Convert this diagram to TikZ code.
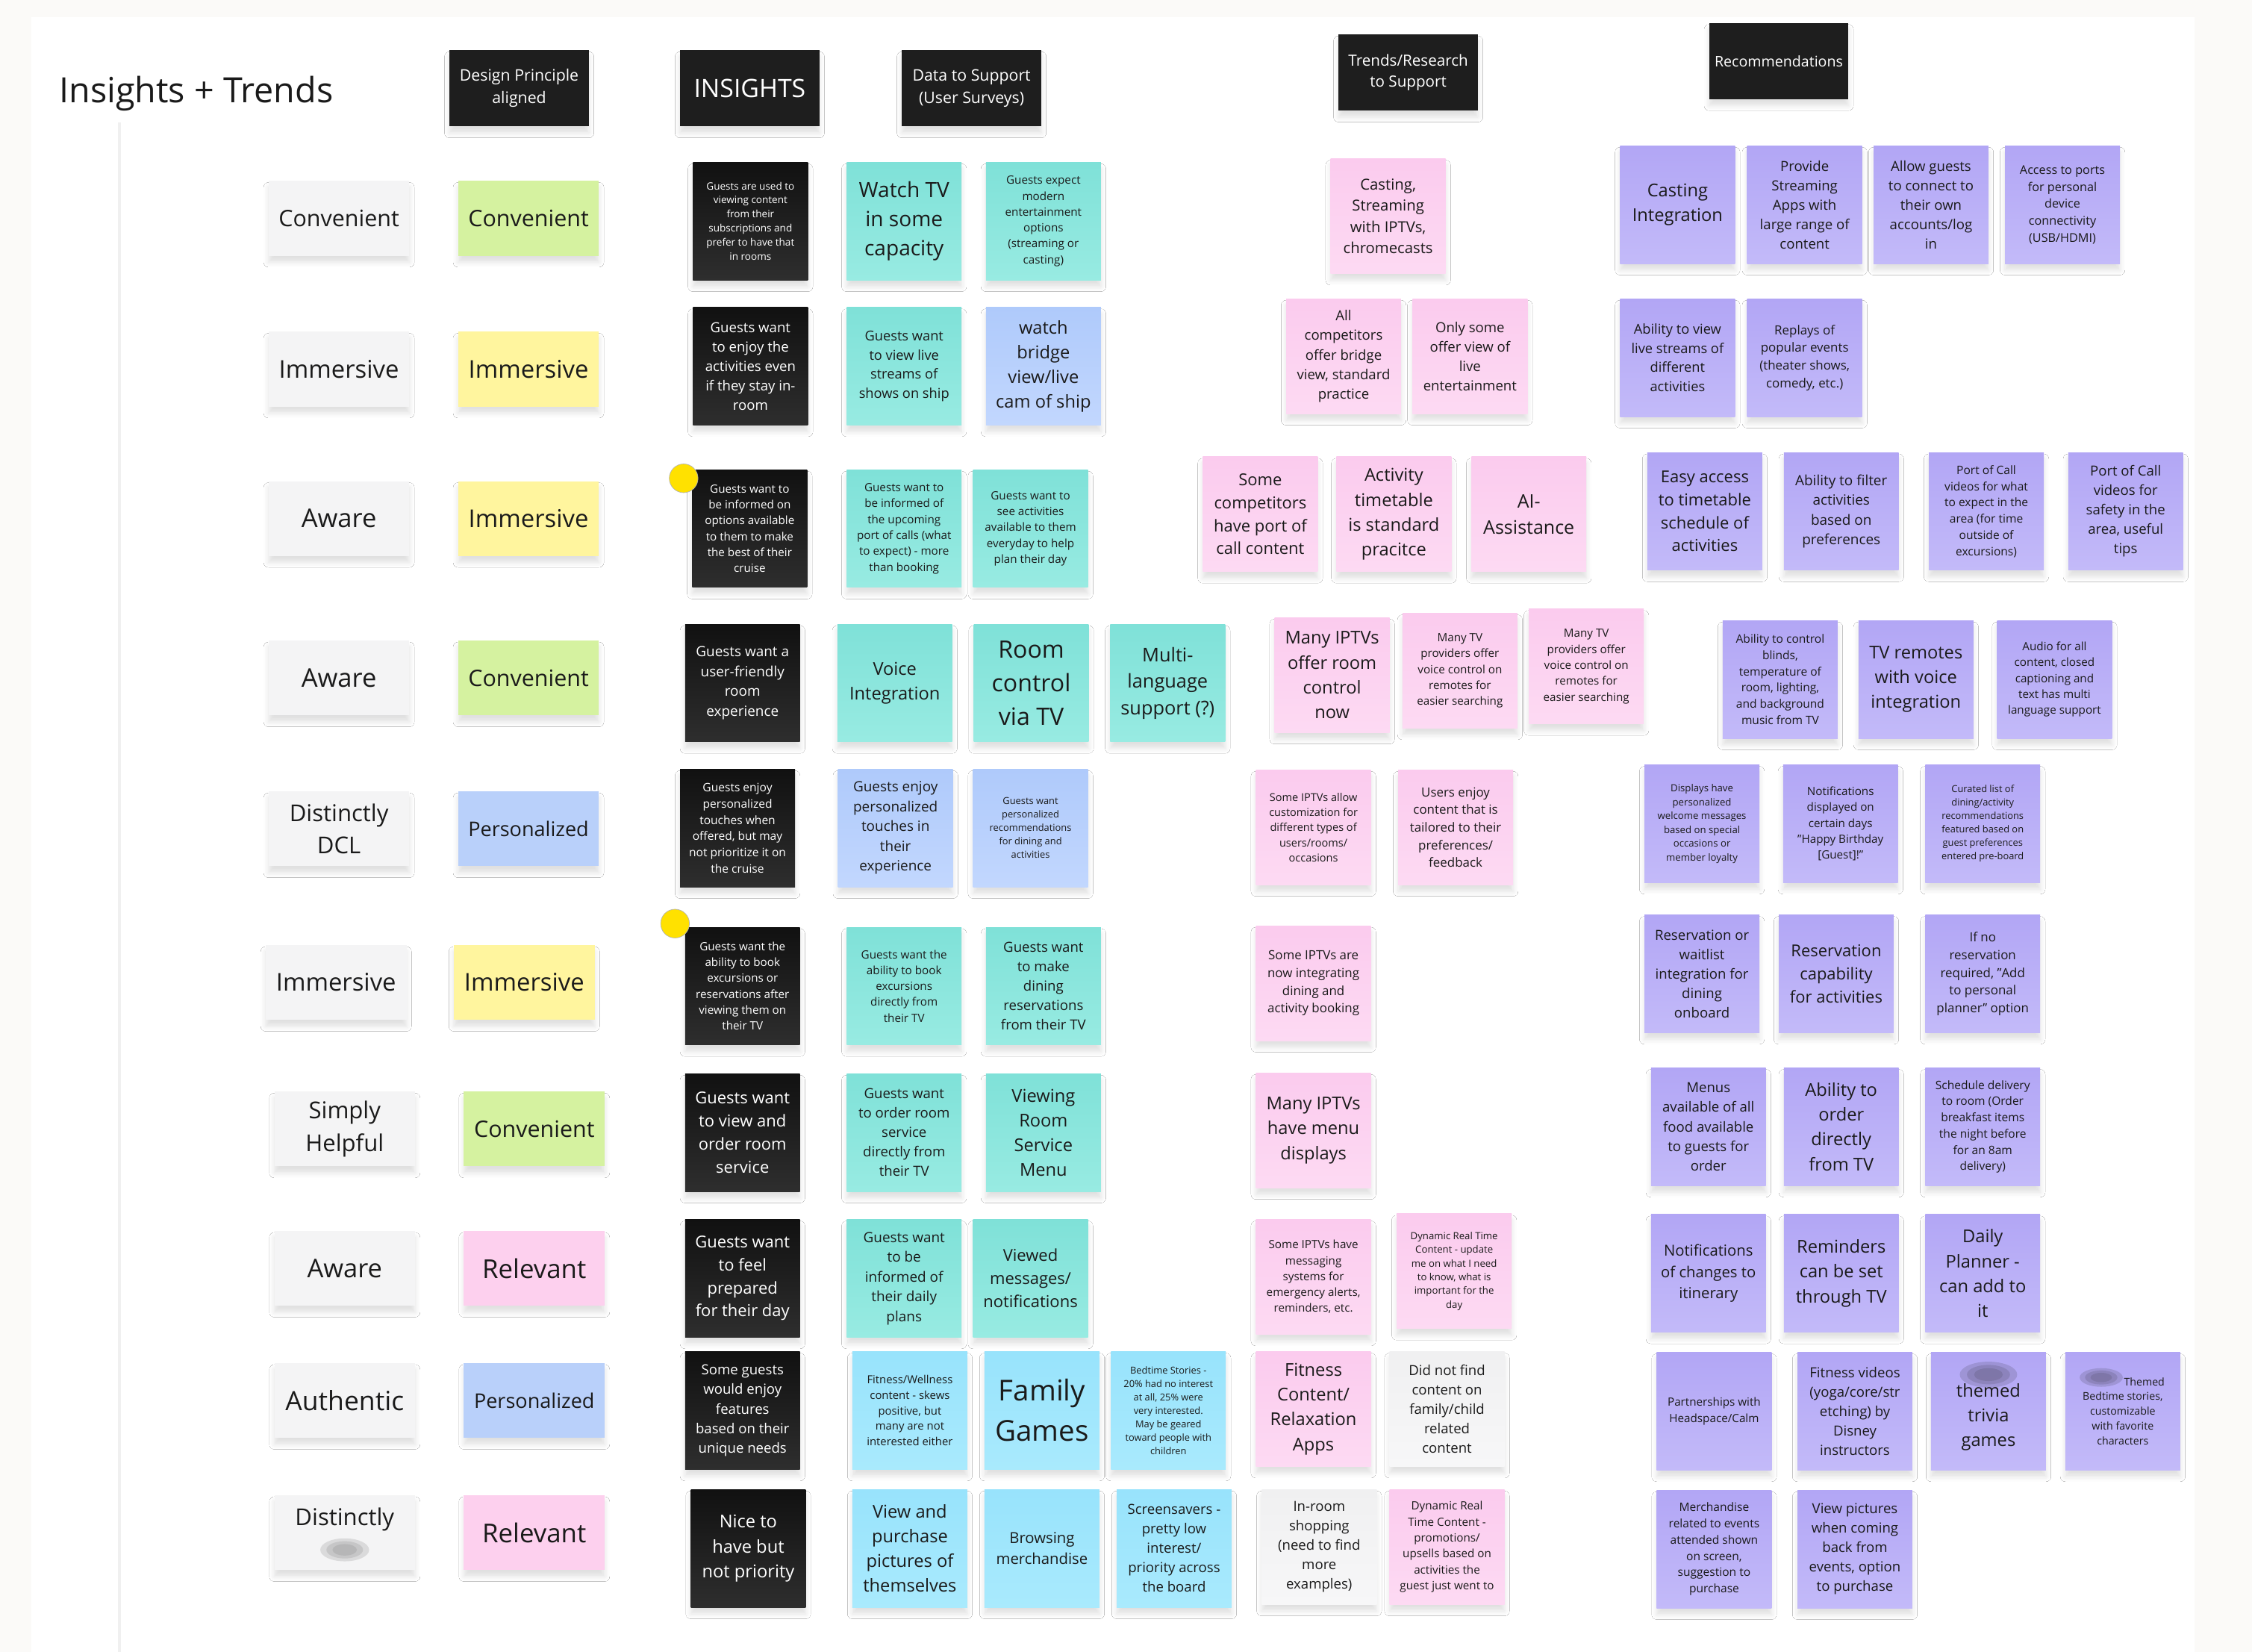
\documentclass[tikz,border=0pt]{standalone}
\usepackage{fontspec}
\setmainfont{Open Sans}
\usetikzlibrary{shadows.blur}

\definecolor{ink}{HTML}{1A1A1A}
\definecolor{board}{HTML}{FBFAF8}
\definecolor{railgrey}{HTML}{F0F0F0}
\definecolor{hdrblack}{HTML}{1E1E1E}
\definecolor{blkTop}{HTML}{111111}
\definecolor{blkBot}{HTML}{2E2E2E}
\definecolor{tealTop}{HTML}{7FE1D8}
\definecolor{tealBot}{HTML}{98EBE2}
\definecolor{paleTop}{HTML}{AFCAFB}
\definecolor{paleBot}{HTML}{C2D7FE}
\definecolor{skyTop}{HTML}{98E3FC}
\definecolor{skyBot}{HTML}{A9EAFD}
\definecolor{pinkTop}{HTML}{FBCBEE}
\definecolor{pinkBot}{HTML}{FDDAF3}
\definecolor{purpTop}{HTML}{B2A6F5}
\definecolor{purpBot}{HTML}{C3BAF9}
\definecolor{greyTop}{HTML}{F0F0F1}
\definecolor{greyBot}{HTML}{F7F7F8}
\definecolor{labelgrey}{HTML}{F4F4F5}
\definecolor{lime}{HTML}{D5F2A0}
\definecolor{lemon}{HTML}{FFF59E}
\definecolor{periwinkle}{HTML}{B9D0FA}
\definecolor{blush}{HTML}{FDD0EE}
\definecolor{dotyellow}{HTML}{FFE100}

% font size with 1.4 line spacing
\newcommand\notefont[1]{\fontsize{#1}{\fpeval{1.4*#1}}\selectfont}

\tikzset{
  sz/.style={font=\notefont{#1}},
  softshadow/.style={blur shadow={shadow xshift=0pt, shadow yshift=-0.9mm, shadow blur radius=0.7mm, shadow opacity=12}},
  note/.style={rectangle, minimum width=16mm, minimum height=16.4mm, inner sep=0pt, align=center, text=ink, softshadow},
  blknote/.style={note, top color=blkTop, bottom color=blkBot, text=white},
  tealnote/.style={note, top color=tealTop, bottom color=tealBot},
  bluenote/.style={note, top color=paleTop, bottom color=paleBot},
  skynote/.style={note, top color=skyTop, bottom color=skyBot},
  purpnote/.style={note, top color=purpTop, bottom color=purpBot},
  pinknote/.style={note, minimum height=16mm, top color=pinkTop, bottom color=pinkBot},
  greynote/.style={note, minimum height=16mm, top color=greyTop, bottom color=greyBot},
  lbl/.style={rectangle, minimum width=19.6mm, minimum height=10.4mm, inner sep=0pt, align=center, text=ink, fill=#1, softshadow},
  hdr/.style={rectangle, minimum width=19.4mm, minimum height=10.6mm, inner sep=0pt, align=center, text=white, fill=hdrblack, softshadow},
  yellowdot/.style={circle, minimum size=4mm, inner sep=0pt, fill=dotyellow, draw=gray!60, line width=0.2pt},
  smudge/.style={fill=#1, opacity=0.22}
}

\begin{document}
\begin{tikzpicture}[x=0.2mm, y=-0.2mm]
\useasboundingbox (0,0) rectangle (1568,1150);
% board
\fill[board] (0,0) rectangle (1568,1150);
\fill[white] (22,12) rectangle (1528,1150);
\draw[railgrey, line width=0.4mm] (83,85) -- (83,1150);

% title and column headers
\node at (41,65) [anchor=west, inner sep=0pt, text=ink, sz=13.8] (title) {Insights + Trends};
\node at (361.5,61.5) [hdr, sz=6.3] (hDesign) {Design Principle\\aligned};
\node at (522,61.5) [hdr, sz=10] (hInsights) {INSIGHTS};
\node at (676.5,61.5) [hdr, sz=6.3] (hData) {Data to Support\\(User Surveys)};
\node at (980.5,50.5) [hdr, sz=6.1] (hTrends) {Trends/Research\\to Support};
\node at (1238.5,42.5) [hdr, sz=5.8] (hRecs) {Recommendations};

% principle labels
\node at (236,152) [lbl=labelgrey, sz=9] (lab1) {Convenient};
\node at (236,257) [lbl=labelgrey, sz=9.7] (lab2) {Immersive};
\node at (236,361) [lbl=labelgrey, sz=10.2] (lab3) {Aware};
\node at (236,472) [lbl=labelgrey, sz=10.2] (lab4) {Aware};
\node at (236,577) [lbl=labelgrey, sz=9.2] (lab5) {Distinctly\\DCL};
\node at (234,684) [lbl=labelgrey, sz=9.7] (lab6) {Immersive};
\node at (240,786) [lbl=labelgrey, sz=9.2] (lab7) {Simply\\Helpful};
\node at (240,883) [lbl=labelgrey, sz=10.2] (lab8) {Aware};
\node at (240,975) [lbl=labelgrey, sz=10.5] (lab9) {Authentic};
\node at (240,1067) [lbl=labelgrey, sz=9.2] (lab10) {Distinctly\\~};
\foreach \k in {1,0.75,0.5}
  \fill[smudge=gray] (240,1079) ellipse [x radius=\k*3.4mm, y radius=\k*1.6mm];

% design principle aligned
\node at (368,152) [lbl=lime, sz=9] (dp1) {Convenient};
\node at (368,257) [lbl=lemon, sz=9.7] (dp2) {Immersive};
\node at (368,361) [lbl=lemon, sz=9.7] (dp3) {Immersive};
\node at (368,472) [lbl=lime, sz=9] (dp4) {Convenient};
\node at (368,577) [lbl=periwinkle, sz=8] (dp5) {Personalized};
\node at (365,684) [lbl=lemon, sz=9.7] (dp6) {Immersive};
\node at (372,786) [lbl=lime, sz=9] (dp7) {Convenient};
\node at (372,883) [lbl=blush, sz=10.3] (dp8) {Relevant};
\node at (372,975) [lbl=periwinkle, sz=8] (dp9) {Personalized};
\node at (372,1067) [lbl=blush, sz=10.3] (dp10) {Relevant};

% insights
\node at (522.5,154) [blknote, sz=4] (ins1) {Guests are used to\\viewing content\\from their\\subscriptions and\\prefer to have that\\in rooms};
\node at (522.5,255) [blknote, sz=5.5] (ins2) {Guests want\\to enjoy the\\activities even\\if they stay in-\\room};
\node at (522,368) [blknote, sz=4.5] (ins3) {Guests want to\\be informed on\\options available\\to them to make\\the best of their\\cruise};
\node at (517,475.5) [blknote, sz=5.6] (ins4) {Guests want a\\user-friendly\\room\\experience};
\node at (513.5,576.5) [blknote, sz=4.6] (ins5) {Guests enjoy\\personalized\\touches when\\offered, but may\\not prioritize it on\\the cruise};
\node at (517,686.5) [blknote, sz=4.5] (ins6) {Guests want the\\ability to book\\excursions or\\reservations after\\viewing them on\\their TV};
\node at (517,788.5) [blknote, sz=6.5] (ins7) {Guests want\\to view and\\order room\\service};
\node at (517,890) [blknote, sz=6.5] (ins8) {Guests want\\to feel\\prepared\\for their day};
\node at (517,982) [blknote, sz=5.5] (ins9) {Some guests\\would enjoy\\features\\based on their\\unique needs};
\node at (521,1078) [blknote, sz=7] (ins10) {Nice to\\have but\\not priority};
\node at (476,333) [yellowdot] (dot1) {};
\node at (470,643) [yellowdot] (dot2) {};

% data to support
\node at (629.5,154) [tealnote, sz=8.3] (dat1a) {Watch TV\\in some\\capacity};
\node at (726.5,154) [tealnote, sz=4.5] (dat1b) {Guests expect\\modern\\entertainment\\options\\(streaming or\\casting)};
\node at (629.5,255) [tealnote, sz=5.4] (dat2a) {Guests want\\to view live\\streams of\\shows on ship};
\node at (726.5,255) [bluenote, sz=7] (dat2b) {watch\\bridge\\view/live\\cam of ship};
\node at (629.5,368) [tealnote, sz=4.5] (dat3a) {Guests want to\\be informed of\\the upcoming\\port of calls (what\\to expect) - more\\than booking};
\node at (717.5,368) [tealnote, sz=4.5] (dat3b) {Guests want to\\see activities\\available to them\\everyday to help\\plan their day};
\node at (623,475.5) [tealnote, sz=7] (dat4a) {Voice\\Integration};
\node at (718,475.5) [tealnote, sz=9.5] (dat4b) {Room\\control\\via TV};
\node at (813,475.5) [tealnote, sz=7.5] (dat4c) {Multi-\\language\\support (?)};
\node at (623.5,576.5) [bluenote, sz=5.6] (dat5a) {Guests enjoy\\personalized\\touches in\\their\\experience};
\node at (717.5,576.5) [bluenote, sz=3.8] (dat5b) {Guests want\\personalized\\recommendations\\for dining and\\activities};
\node at (629.5,686.5) [tealnote, sz=4.5] (dat6a) {Guests want the\\ability to book\\excursions\\directly from\\their TV};
\node at (726.5,686.5) [tealnote, sz=5.5] (dat6b) {Guests want\\to make\\dining\\reservations\\from their TV};
\node at (629.5,788.5) [tealnote, sz=5.5] (dat7a) {Guests want\\to order room\\service\\directly from\\their TV};
\node at (726.5,788.5) [tealnote, sz=7] (dat7b) {Viewing\\Room\\Service\\Menu};
\node at (629.5,890) [tealnote, sz=5.6] (dat8a) {Guests want\\to be\\informed of\\their daily\\plans};
\node at (717.5,890) [tealnote, sz=6.5] (dat8b) {Viewed\\messages/\\notifications};
\node at (633.5,982) [skynote, sz=4.4] (dat9a) {Fitness/Wellness\\content - skews\\positive, but\\many are not\\interested either};
\node at (725.5,982) [skynote, sz=11.4] (dat9b) {Family\\Games};
\node at (813.5,982) [skynote, sz=3.8] (dat9c) {Bedtime Stories -\\20\% had no interest\\at all, 25\% were\\very interested.\\May be geared\\toward people with\\children};
\node at (633.5,1078) [skynote, sz=7] (dat10a) {View and\\purchase\\pictures of\\themselves};
\node at (725.5,1078) [skynote, sz=6] (dat10b) {Browsing\\merchandise};
\node at (817.5,1078) [skynote, sz=5.5] (dat10c) {Screensavers -\\pretty low\\interest/\\priority across\\the board};

% trends / research
\node at (966.5,150.5) [pinknote, sz=6] (trd1) {Casting,\\Streaming\\with IPTVs,\\chromecasts};
\node at (935.5,248) [pinknote, sz=5.5] (trd2a) {All\\competitors\\offer bridge\\view, standard\\practice};
\node at (1023.5,248) [pinknote, sz=5.5] (trd2b) {Only some\\offer view of\\live\\entertainment};
\node at (877.5,358) [pinknote, sz=6.5] (trd3a) {Some\\competitors\\have port of\\call content};
\node at (970.5,358) [pinknote, sz=7] (trd3b) {Activity\\timetable\\is standard\\pracitce};
\node at (1064.5,358) [pinknote, sz=7.4] (trd3c) {AI-\\Assistance};
\node at (927.5,470) [pinknote, sz=7] (trd4a) {Many IPTVs\\offer room\\control\\now};
\node at (1016.5,467) [pinknote, sz=4.5] (trd4b) {Many TV\\providers offer\\voice control on\\remotes for\\easier searching};
\node at (1104.5,464) [pinknote, sz=4.5] (trd4c) {Many TV\\providers offer\\voice control on\\remotes for\\easier searching};
\node at (914.5,576) [pinknote, sz=4.3] (trd5a) {Some IPTVs allow\\customization for\\different types of\\users/rooms/\\occasions};
\node at (1013.5,576) [pinknote, sz=5] (trd5b) {Users enjoy\\content that is\\tailored to their\\preferences/\\feedback};
\node at (914.5,684.5) [pinknote, sz=5] (trd6) {Some IPTVs are\\now integrating\\dining and\\activity booking};
\node at (914.5,787) [pinknote, sz=7] (trd7) {Many IPTVs\\have menu\\displays};
\node at (914.5,889) [pinknote, sz=4.5] (trd8a) {Some IPTVs have\\messaging\\systems for\\emergency alerts,\\reminders, etc.};
\node at (1012.5,885) [pinknote, sz=3.9] (trd8b) {Dynamic Real Time\\Content - update\\me on what I need\\to know, what is\\important for the\\day};
\node at (914.5,981) [pinknote, sz=7] (trd9a) {Fitness\\Content/\\Relaxation\\Apps};
\node at (1007.5,981) [greynote, sz=5.5] (trd9b) {Did not find\\content on\\family/child\\related\\content};
\node at (918.5,1077) [greynote, sz=5.5] (trd10a) {In-room\\shopping\\(need to find\\more\\examples)};
\node at (1007.5,1077) [pinknote, sz=4.5] (trd10b) {Dynamic Real\\Time Content -\\promotions/\\upsells based on\\activities the\\guest just went to};

% recommendations
\node at (1168,142.5) [purpnote, sz=7] (rec1a) {Casting\\Integration};
\node at (1256.5,142.5) [purpnote, sz=5.5] (rec1b) {Provide\\Streaming\\Apps with\\large range of\\content};
\node at (1344.5,142.5) [purpnote, sz=5.5] (rec1c) {Allow guests\\to connect to\\their own\\accounts/log\\in};
\node at (1436,142.5) [purpnote, sz=4.8] (rec1d) {Access to ports\\for personal\\device\\connectivity\\(USB/HDMI)};
\node at (1168,249) [purpnote, sz=5.4] (rec2a) {Ability to view\\live streams of\\different\\activities};
\node at (1256.5,249) [purpnote, sz=5] (rec2b) {Replays of\\popular events\\(theater shows,\\comedy, etc.)};
\node at (1187,356) [purpnote, sz=6.5] (rec3a) {Easy access\\to timetable\\schedule of\\activities};
\node at (1282,356) [purpnote, sz=5.6] (rec3b) {Ability to filter\\activities\\based on\\preferences};
\node at (1383,356) [purpnote, sz=4.6] (rec3c) {Port of Call\\videos for what\\to expect in the\\area (for time\\outside of\\excursions)};
\node at (1480,356) [purpnote, sz=5.5] (rec3d) {Port of Call\\videos for\\safety in the\\area, useful\\tips};
\node at (1239.5,473) [purpnote, sz=4.6] (rec4a) {Ability to control\\blinds,\\temperature of\\room, lighting,\\and background\\music from TV};
\node at (1334,473) [purpnote, sz=7] (rec4b) {TV remotes\\with voice\\integration};
\node at (1430.5,473) [purpnote, sz=4.5] (rec4c) {Audio for all\\content, closed\\captioning and\\text has multi\\language support};
\node at (1185,573.5) [purpnote, sz=3.9] (rec5a) {Displays have\\personalized\\welcome messages\\based on special\\occasions or\\member loyalty};
\node at (1281.5,573.5) [purpnote, sz=4.5] (rec5b) {Notifications\\displayed on\\certain days\\"Happy Birthday\\{}[Guest]!"};
\node at (1380.5,573.5) [purpnote, sz=3.8] (rec5c) {Curated list of\\dining/activity\\recommendations\\featured based on\\guest preferences\\entered pre-board};
\node at (1185,678) [purpnote, sz=5.5] (rec6a) {Reservation or\\waitlist\\integration for\\dining\\onboard};
\node at (1278.5,678) [purpnote, sz=6.5] (rec6b) {Reservation\\capability\\for activities};
\node at (1380.5,678) [purpnote, sz=5] (rec6c) {If no\\reservation\\required, "Add\\to personal\\planner" option};
\node at (1189.5,784.5) [purpnote, sz=5.5] (rec7a) {Menus\\available of all\\food available\\to guests for\\order};
\node at (1282,784.5) [purpnote, sz=7] (rec7b) {Ability to\\order\\directly\\from TV};
\node at (1380.5,784.5) [purpnote, sz=4.6] (rec7c) {Schedule delivery\\to room (Order\\breakfast items\\the night before\\for an 8am\\delivery)};
\node at (1189.5,886.5) [purpnote, sz=6] (rec8a) {Notifications\\of changes to\\itinerary};
\node at (1282,886.5) [purpnote, sz=7] (rec8b) {Reminders\\can be set\\through TV};
\node at (1380.5,886.5) [purpnote, sz=7] (rec8c) {Daily\\Planner -\\can add to\\it};
\node at (1193.5,982.5) [purpnote, sz=4.5] (rec9a) {Partnerships with\\Headspace/Calm};
\node at (1291.5,982.5) [purpnote, sz=5.5] (rec9b) {Fitness videos\\(yoga/core/str\\etching) by\\Disney\\instructors};
\node at (1384.5,982.5) [purpnote, sz=7] (rec9c) {~\\themed\\trivia\\games};
\node at (1478,982.5) [purpnote, sz=4.2] (rec9d) {\hspace{6mm}Themed\\Bedtime stories,\\customizable\\with favorite\\characters};
\node at (1193.5,1078.5) [purpnote, sz=4.6] (rec10a) {Merchandise\\related to events\\attended shown\\on screen,\\suggestion to\\purchase};
\node at (1291.5,1078.5) [purpnote, sz=5.5] (rec10b) {View pictures\\when coming\\back from\\events, option\\to purchase};

% blurred words
\foreach \k in {1,0.75,0.5}
  \fill[smudge=purpBot!40!black] (1384.5,957) ellipse [x radius=\k*4mm, y radius=\k*1.8mm];
\foreach \k in {1,0.75,0.5}
  \fill[smudge=purpBot!40!black] (1463,959) ellipse [x radius=\k*3mm, y radius=\k*1.3mm];
\end{tikzpicture}
\end{document}
